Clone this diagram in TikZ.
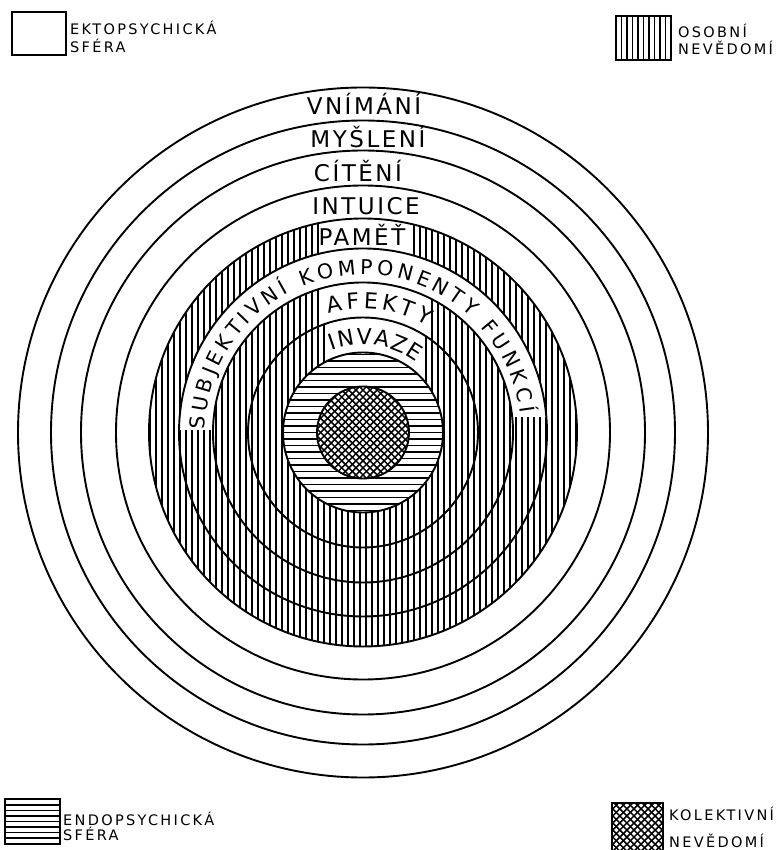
\documentclass[tikz,border=0pt]{standalone}
\usepackage{fontspec}
\setmainfont{DejaVu Sans}
\usetikzlibrary{decorations.text}
\newcommand{\bigfont}{\fontsize{23}{23}\selectfont\addfontfeature{LetterSpace=11}}
\newcommand{\arcfont}{\fontsize{20.5}{20.5}\selectfont}
\newcommand{\smallarcfont}{\fontsize{22}{22}\selectfont}
\newcommand{\legfont}{\fontsize{14.5}{14.5}\selectfont\addfontfeature{LetterSpace=16}}
\begin{document}
\begin{tikzpicture}[x=1pt,y=1pt,
  ring/.style={line width=1.9pt, draw=black},
  vhatch/.style={line width=1.2pt, black},
  hhatch/.style={line width=1.35pt, black},
  xhatch/.style={line width=1.5pt, black},
  lab/.style={inner sep=0pt, anchor=base, font=\bigfont},
  leg/.style={inner sep=0pt, anchor=base west, font=\legfont},
  legbox/.style={line width=1.9pt, draw=black}]
\useasboundingbox (-363,-417.5) rectangle (419,432.5);
\fill[white] (-363,-417.5) rectangle (419,432.5);
\coordinate (c) at (0,0);
% vertical hatching (personal unconscious)
\begin{scope}
  \clip (c) circle (214);
  \foreach \x in {-213,-207,...,214} \draw[vhatch] (\x,-215) -- (\x,215);
\end{scope}
% white areas behind texts
\begin{scope}
  \clip (-43,0) rectangle (47,230);
  \fill[white, even odd rule] (c) circle (214) (c) circle (184);
\end{scope}
\begin{scope}
  \clip (-400,2.5) -- (0,2.5) -- (0,15.5) -- (400,15.5) -- (400,400) -- (-400,400) -- cycle;
  \fill[white, even odd rule] (c) circle (184) (c) circle (150);
\end{scope}
\begin{scope}
  \clip (-41,0) rectangle (67,230);
  \fill[white, even odd rule] (c) circle (150) (c) circle (115);
\end{scope}
\begin{scope}
  \clip (-38,0) rectangle (60,230);
  \fill[white, even odd rule] (c) circle (115) (c) circle (80);
\end{scope}
% horizontal hatching (endopsychic sphere)
\fill[white] (c) circle (80);
\begin{scope}
  \clip (c) circle (80);
  \foreach \y in {-78,-71.5,...,80} \draw[hhatch] (-81,\y) -- (81,\y);
\end{scope}
% cross hatching (collective unconscious)
\fill[white] (c) circle (46);
\begin{scope}
  \clip (c) circle (46);
  \begin{scope}[rotate=45]
    \foreach \t in {-50,-45,...,50} {\draw[xhatch] (\t,-50) -- (\t,50); \draw[xhatch] (-50,\t) -- (50,\t);}
  \end{scope}
\end{scope}
% rings
\foreach \r in {345,312,282,247,214,184,150,115,80,46}
  \draw[ring] (c) circle (\r);
% straight labels
\node[lab] (vnimani) at (1,317.5) {VNÍMÁNÍ};
\node[lab] (mysleni) at (5,284.5) {MYŠLENÍ};
\node[lab] (citeni) at (-5,250.5) {CÍTĚNÍ};
\node[lab] (intuice) at (3,217.5) {INTUICE};
\node[lab] (pamet) at (-1,187) {PAMĚŤ};
% curved labels
\path[decorate, decoration={text along path, text={|\arcfont|SUBJEKTIVNÍ KOMPONENTY FUNKCÍ}, text align={fit to path}}]
  (179:158) arc[start angle=179, end angle=7, radius=158];
\path[decorate, decoration={text along path, text={|\smallarcfont|AFEKTY}, text align={fit to path}}]
  (106:124) arc[start angle=106, end angle=59, radius=124];
\path[decorate, decoration={text along path, text={|\smallarcfont|INVAZE}, text align={fit to path}}]
  (111:88) arc[start angle=111, end angle=53, radius=88];
% legend: ectopsychic sphere
\draw[legbox] (-351,377.5) rectangle (-297,420.5);
\node[leg] (ekto1) at (-293,397.5) {EKTOPSYCHICKÁ};
\node[leg] (ekto2) at (-293,379.5) {SFÉRA};
% legend: personal unconscious
\begin{scope}
  \clip (253,372.5) rectangle (308,416.5);
  \foreach \x in {258.5,264,...,305} \draw[vhatch] (\x,370) -- (\x,420);
\end{scope}
\draw[legbox] (253,372.5) rectangle (308,416.5);
\node[leg] (oso1) at (315,394.5) {OSOBNÍ};
\node[leg] (oso2) at (315,377.5) {NEVĚDOMÍ};
% legend: endopsychic sphere
\begin{scope}
  \clip (-358,-411.5) rectangle (-303,-366.5);
  \foreach \y in {-405.5,-400,...,-368} \draw[hhatch] (-360,\y) -- (-300,\y);
\end{scope}
\draw[legbox] (-358,-411.5) rectangle (-303,-366.5);
\node[leg] (endo1) at (-300,-392.5) {ENDOPSYCHICKÁ};
\node[leg] (endo2) at (-300,-407.5) {SFÉRA};
% legend: collective unconscious
\begin{scope}
  \clip (249,-417.5) rectangle (300,-370.5);
  \begin{scope}[shift={(274.5,-394)}, rotate=45]
    \foreach \t in {-40,-35,...,40} {\draw[xhatch] (\t,-40) -- (\t,40); \draw[xhatch] (-40,\t) -- (40,\t);}
  \end{scope}
\end{scope}
\draw[legbox] (249,-418.5) rectangle (300,-370.5);
\node[leg] (kol1) at (306,-387.5) {KOLEKTIVNÍ};
\node[leg] (kol2) at (306,-414.5) {NEVĚDOMÍ};
\end{tikzpicture}
\end{document}
